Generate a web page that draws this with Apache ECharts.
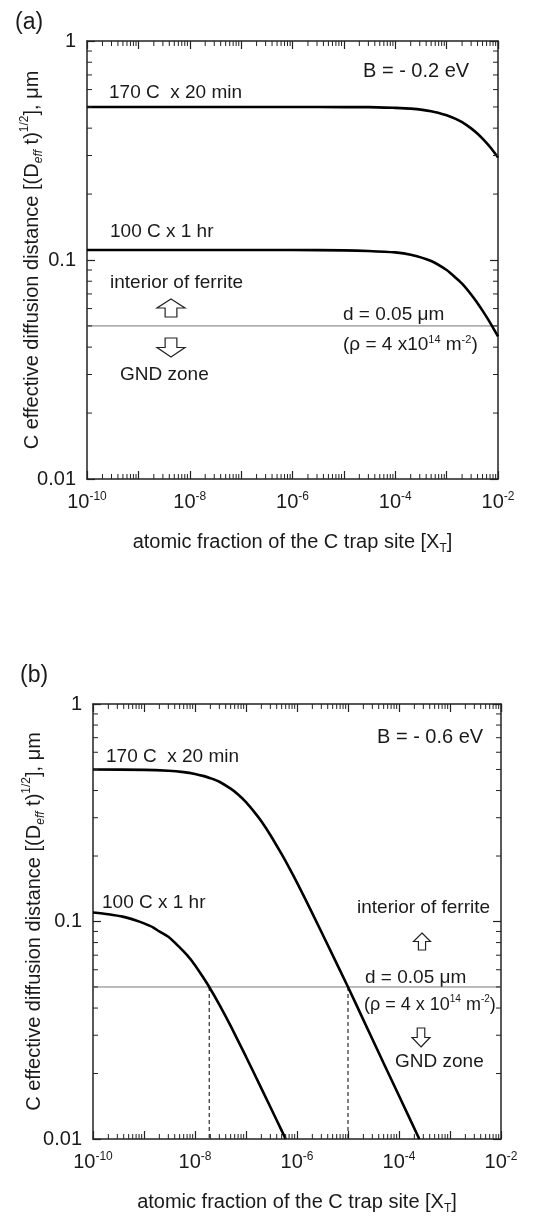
<!DOCTYPE html>
<html>
<head>
<meta charset="utf-8">
<script src="https://cdn.jsdelivr.net/npm/echarts@6/dist/echarts.min.js"></script>
<style>
  html, body { margin: 0; padding: 0; background: #fff; }
  #chart { width: 559px; height: 1216px; }
</style>
</head>
<body>
<div id="chart"></div>
<script>
// ---- data ----
// panel (a): B = -0.2 eV
const xA = [1e-10, 1e-9, 1e-8, 1e-7, 1e-6, 1e-5, 3e-5, 1e-4, 2e-4, 5e-4, 1e-3, 1.5e-3, 2e-3, 3e-3, 4e-3, 5e-3, 7e-3, 1e-2];
const a170 = [0.50, 0.50, 0.50, 0.50, 0.50, 0.499, 0.499, 0.495, 0.491, 0.478, 0.458, 0.441, 0.426, 0.399, 0.377, 0.358, 0.328, 0.294];
const a100 = [0.111, 0.111, 0.111, 0.111, 0.111, 0.1107, 0.110, 0.1083, 0.1057, 0.099, 0.090, 0.083, 0.078, 0.0696, 0.0635, 0.0587, 0.0518, 0.0448];

// panel (b): B = -0.6 eV
const xB170 = [1e-10, 1e-9, 3e-9, 6e-9, 1e-8, 1.5e-8, 2e-8, 3e-8, 5e-8, 7e-8, 1e-7, 1.5e-7, 2e-7, 3e-7, 5e-7, 7e-7, 1e-6, 2e-6, 5e-6, 1e-5, 2e-5, 5e-5, 1e-4, 2.5e-4];
const b170 = [0.500, 0.498, 0.493, 0.486, 0.477, 0.466, 0.456, 0.439, 0.408, 0.384, 0.354, 0.316, 0.289, 0.250, 0.204, 0.177, 0.151, 0.109, 0.070, 0.050, 0.0353, 0.0223, 0.0158, 0.0100];
const xB100 = [1e-10, 2e-10, 4e-10, 7e-10, 1e-9, 1.5e-9, 2e-9, 3e-9, 5e-9, 7e-9, 1e-8, 1.4e-8, 1.9e-8, 3e-8, 5e-8, 1e-7, 2e-7, 4e-7, 6e-7];
const b100 = [0.110, 0.108, 0.105, 0.101, 0.098, 0.094, 0.090, 0.085, 0.076, 0.070, 0.063, 0.056, 0.050, 0.0415, 0.0331, 0.0239, 0.0171, 0.0122, 0.0100];

// GND boundary d = 0.05 um, and where the curves cross it in (b)
const dLimit = 0.05;
const crossB = [1.9e-8, 1e-5];

// axis ranges
const xRange = [1e-10, 1e-2];
const yRange = [0.01, 1];
const minorMult = [2, 3, 4, 5, 6, 7, 8, 9];

const FONT = "'Liberation Sans', Arial, sans-serif";
const INK = '#1a1a1a';

const zip = (xs, ys) => xs.map((x, i) => [x, ys[i]]);

// minor tick values (log decades)
const xMinor = [];
for (let e = -10; e < -2; e++) minorMult.forEach(k => xMinor.push(k * Math.pow(10, e)));
const yMinor = [];
for (let e = -2; e < 0; e++) minorMult.forEach(k => yMinor.push(k * Math.pow(10, e)));

const xLabel = v => {
  const e = Math.round(Math.log10(v));
  return e % 2 === 0 ? '{b|10}{s|' + e + '}' : '';
};
const yLabel = v => {
  const e = Math.round(Math.log10(v));
  return e === 0 ? '1' : e === -1 ? '0.1' : '0.01';
};

const tickRich = {
  b: { fontSize: 20, fontFamily: FONT, color: INK, lineHeight: 23 },
  s: { fontSize: 12, fontFamily: FONT, color: INK, lineHeight: 12, verticalAlign: 'top' }
};
const nameRich = {
  n: { fontSize: 20, fontFamily: FONT, color: INK, lineHeight: 26 },
  sub: { fontSize: 12, fontFamily: FONT, color: INK, lineHeight: 12, verticalAlign: 'bottom' },
  subi: { fontSize: 12, fontFamily: FONT, fontStyle: 'italic', color: INK, lineHeight: 12, verticalAlign: 'bottom' },
  sup: { fontSize: 12, fontFamily: FONT, color: INK, lineHeight: 12, verticalAlign: 'top' }
};

const axisLine = { lineStyle: { color: '#222', width: 1.5 } };
const majorTick = { inside: true, length: 8, lineStyle: { color: '#222', width: 1.2 } };

function xAxes(gi) {
  return [
    {
      gridIndex: gi, type: 'log', logBase: 10, min: xRange[0], max: xRange[1], splitNumber: 8,
      axisLine, axisTick: majorTick, splitLine: { show: false },
      axisLabel: { formatter: xLabel, rich: tickRich, margin: 12 },
      name: '{n|atomic fraction of the C trap site [X}{sub|T}{n|]}',
      nameLocation: 'middle', nameGap: 50, nameMoveOverlap: false, nameTextStyle: { rich: nameRich }
    },
    {
      gridIndex: gi, type: 'log', logBase: 10, min: xRange[0], max: xRange[1], splitNumber: 8,
      position: 'top', axisLine, axisTick: majorTick, splitLine: { show: false },
      axisLabel: { show: false }
    }
  ];
}
function yAxes(gi, gap) {
  return [
    {
      gridIndex: gi, type: 'log', logBase: 10, min: yRange[0], max: yRange[1], splitNumber: 2,
      axisLine, axisTick: majorTick, splitLine: { show: false },
      axisLabel: { formatter: yLabel, fontSize: 20, fontFamily: FONT, color: INK, margin: 11 },
      name: '{n|C effective diffusion distance [(D}{subi|eff}{n| t)}{sup|1/2}{n|], μm}',
      nameLocation: 'middle', nameGap: gap, nameRotate: 90, nameMoveOverlap: false,
      nameTextStyle: { rich: nameRich }
    },
    {
      gridIndex: gi, type: 'log', logBase: 10, min: yRange[0], max: yRange[1], splitNumber: 2,
      position: 'right', axisLine, axisTick: majorTick, splitLine: { show: false },
      axisLabel: { show: false }
    }
  ];
}

// minor ticks drawn on all four sides through the axis scales
function minorTicks(gi, values, dir) {
  return {
    type: 'custom', xAxisIndex: gi * 2, yAxisIndex: gi * 2, silent: true, z: 5,
    data: values.map(v => dir === 'x' ? [v, 0.1] : [1e-6, v]),
    renderItem(params, api) {
      const cs = params.coordSys;
      const p = api.coord([api.value(0), api.value(1)]);
      const len = 5;
      const st = { stroke: '#222', lineWidth: 1 };
      if (dir === 'x') {
        return { type: 'group', children: [
          { type: 'line', shape: { x1: p[0], y1: cs.y + cs.height, x2: p[0], y2: cs.y + cs.height - len }, style: st },
          { type: 'line', shape: { x1: p[0], y1: cs.y, x2: p[0], y2: cs.y + len }, style: st }
        ] };
      }
      return { type: 'group', children: [
        { type: 'line', shape: { x1: cs.x, y1: p[1], x2: cs.x + len, y2: p[1] }, style: st },
        { type: 'line', shape: { x1: cs.x + cs.width, y1: p[1], x2: cs.x + cs.width - len, y2: p[1] }, style: st }
      ] };
    }
  };
}

function curve(gi, data, extra) {
  return Object.assign({
    type: 'line', xAxisIndex: gi * 2, yAxisIndex: gi * 2, data, showSymbol: false,
    smooth: 0.25, lineStyle: { color: '#000', width: 2.6 }, z: 4, silent: true
  }, extra || {});
}

const limitLine = gi => curve(gi, [[xRange[0], dLimit], [xRange[1], dLimit]], {
  smooth: false, lineStyle: { color: '#777', width: 1 }, z: 3
});

// text helpers
const txt = (x, y, text, size, rich) => ({
  type: 'text', x, y,
  style: { text, font: (size || 19) + 'px ' + FONT, fill: INK, verticalAlign: 'middle', align: 'left', rich }
});
const rhoRich = size => ({
  n: { fontSize: size, fontFamily: FONT, color: INK, lineHeight: 22 },
  s: { fontSize: size - 8, fontFamily: FONT, color: INK, lineHeight: 11, verticalAlign: 'top' }
});
function arrow(cx, top, bottom, w, up) {
  const h = bottom - top, head = h * 0.5, sw = w * 0.42;
  let pts;
  if (up) {
    pts = [[cx, top], [cx + w / 2, top + head], [cx + sw / 2, top + head], [cx + sw / 2, bottom],
           [cx - sw / 2, bottom], [cx - sw / 2, top + head], [cx - w / 2, top + head]];
  } else {
    pts = [[cx, bottom], [cx + w / 2, bottom - head], [cx + sw / 2, bottom - head], [cx + sw / 2, top],
           [cx - sw / 2, top], [cx - sw / 2, bottom - head], [cx - w / 2, bottom - head]];
  }
  return { type: 'polygon', shape: { points: pts }, style: { fill: '#fff', stroke: '#222', lineWidth: 1.2 } };
}

const chart = echarts.init(document.getElementById('chart'), null, { renderer: 'canvas' });
chart.setOption({
  animation: false,
  backgroundColor: '#fff',
  textStyle: { fontFamily: FONT, color: INK },
  grid: [
    { left: 87, top: 41, width: 411, height: 438 },
    { left: 93, top: 704, width: 408, height: 437 }
  ],
  xAxis: [...xAxes(0), ...xAxes(1)],
  yAxis: [...yAxes(0, 42), ...yAxes(1, 46)],
  series: [
    limitLine(0),
    curve(0, zip(xA, a170)),
    curve(0, zip(xA, a100)),
    minorTicks(0, xMinor, 'x'),
    minorTicks(0, yMinor, 'y'),
    limitLine(1),
    curve(1, zip(xB170, b170)),
    curve(1, zip(xB100, b100)),
    ...crossB.map(x => curve(1, [[x, dLimit], [x, yRange[0]]], {
      smooth: false, lineStyle: { color: '#000', width: 1, type: [4, 3] }, z: 3
    })),
    minorTicks(1, xMinor, 'x'),
    minorTicks(1, yMinor, 'y')
  ],
  graphic: [
    // panel (a)
    txt(15, 23, '(a)', 23),
    txt(363, 71, 'B = - 0.2 eV', 20),
    txt(109, 93, '170 C  x 20 min'),
    txt(110, 232, '100 C x 1 hr'),
    txt(110, 283, 'interior of ferrite'),
    arrow(171, 299, 317, 28, true),
    txt(343, 315, 'd = 0.05 μm'),
    txt(343, 345, '{n|(ρ = 4 x10}{s|14}{n| m}{s|-2}{n|)}', 19, rhoRich(19)),
    arrow(171, 338, 357, 28, false),
    txt(120, 375, 'GND zone'),
    // panel (b)
    txt(20, 676, '(b)', 23),
    txt(377, 737, 'B = - 0.6 eV', 20),
    txt(106, 757, '170 C  x 20 min'),
    txt(102, 903, '100 C x 1 hr'),
    txt(357, 908, 'interior of ferrite'),
    arrow(422, 933, 950, 17, true),
    txt(365, 978, 'd = 0.05 μm'),
    txt(364, 1005, '{n|(ρ = 4 x 10}{s|14}{n| m}{s|-2}{n|)}', 18, rhoRich(18)),
    arrow(421, 1028, 1047, 18, false),
    txt(395, 1062, 'GND zone')
  ]
});
</script>
</body>
</html>
